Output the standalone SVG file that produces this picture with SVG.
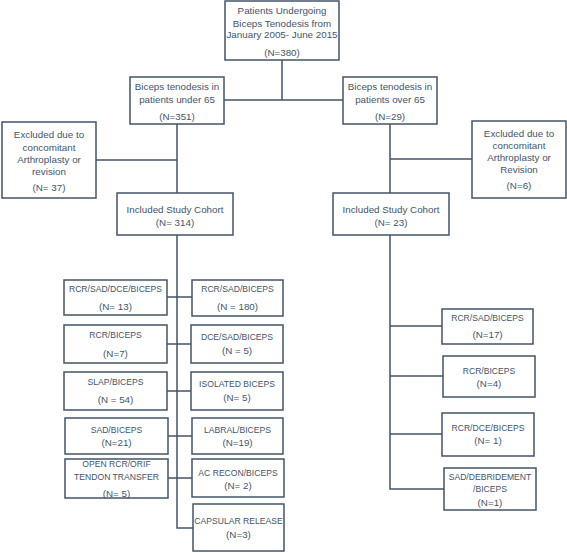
<svg xmlns="http://www.w3.org/2000/svg" width="567" height="553" viewBox="0 0 567 553">
<style>
rect{fill:#fff;stroke:#44546A;stroke-width:1.5}
text{font-family:"Liberation Sans",Arial,sans-serif;font-size:9.8px;fill:#44546A;text-anchor:middle}
text.c{font-size:8.6px}
#connectors path{fill:none;stroke:#44546A;stroke-width:1.5}
</style>
<rect x="0" y="0" width="567" height="553" style="fill:#fff;stroke:none"/>
<g id="connectors">
<path d="M282 60V100M224 100H343"/>
<path d="M177 124V193M96 160H177"/>
<path d="M390 124V193M390 159H472"/>
<path d="M177 235V528H193M167 297H192M167 344H191M167 391H191M168 436H192M168 478H192"/>
<path d="M390 235V489H444M390 326H442M390 376H443M390 434H442"/>
</g>
<g id="n_top"><rect x="225" y="1" width="114" height="59"/>
<text x="282" y="13.5">Patients Undergoing</text><text x="282" y="26.5">Biceps Tenodesis from</text><text x="282" y="37.5">January 2005- June 2015</text><text x="282" y="55.5">(N=380)</text></g>
<g id="n_under65"><rect x="130" y="77" width="94" height="47"/>
<text x="177" y="89.5">Biceps tenodesis in</text><text x="177" y="102.5">patients under 65</text><text x="177" y="119.5">(N=351)</text></g>
<g id="n_over65"><rect x="343" y="77" width="94" height="47"/>
<text x="390" y="89.5">Biceps tenodesis in</text><text x="390" y="102.5">patients over 65</text><text x="390" y="119.5">(N=29)</text></g>
<g id="n_excl_left"><rect x="2" y="122" width="94" height="76"/>
<text x="49" y="137.5">Excluded due to</text><text x="49" y="150.5">concomitant</text><text x="49" y="162.5">Arthroplasty or</text><text x="49" y="174.5">revision</text><text x="49" y="190.5">(N= 37)</text></g>
<g id="n_excl_right"><rect x="472" y="121" width="94" height="77"/>
<text x="519" y="136.5">Excluded due to</text><text x="519" y="148.5">concomitant</text><text x="519" y="160.5">Arthroplasty or</text><text x="519" y="172.5">Revision</text><text x="519" y="188.5">(N=6)</text></g>
<g id="n_cohort_left"><rect x="117" y="193" width="116" height="42"/>
<text x="175" y="212.5">Included Study Cohort</text><text x="175" y="225.5">(N= 314)</text></g>
<g id="n_cohort_right"><rect x="333" y="193" width="116" height="42"/>
<text x="391" y="212.5">Included Study Cohort</text><text x="391" y="225.5">(N= 23)</text></g>
<g id="n_l1"><rect x="64" y="280" width="103" height="35"/>
<text class="c" x="115.5" y="292">RCR/SAD/DCE/BICEPS</text><text x="115.5" y="309.5">(N= 13)</text></g>
<g id="n_r1"><rect x="192" y="280" width="91" height="36"/>
<text class="c" x="237.5" y="292">RCR/SAD/BICEPS</text><text x="237.5" y="309.5">(N = 180)</text></g>
<g id="n_l2"><rect x="64" y="325" width="103" height="38"/>
<text class="c" x="115.5" y="338">RCR/BICEPS</text><text x="115.5" y="356.5">(N=7)</text></g>
<g id="n_r2"><rect x="191" y="325" width="92" height="38"/>
<text class="c" x="237" y="340">DCE/SAD/BICEPS</text><text x="237" y="353.5">(N = 5)</text></g>
<g id="n_l3"><rect x="64" y="372" width="103" height="38"/>
<text class="c" x="115.5" y="385">SLAP/BICEPS</text><text x="115.5" y="402.5">(N = 54)</text></g>
<g id="n_r3"><rect x="191" y="372" width="92" height="38"/>
<text class="c" x="237" y="387">ISOLATED BICEPS</text><text x="237" y="400.5">(N= 5)</text></g>
<g id="n_l4"><rect x="65" y="418" width="103" height="36"/>
<text class="c" x="116.5" y="433">SAD/BICEPS</text><text x="116.5" y="445.5">(N=21)</text></g>
<g id="n_r4"><rect x="192" y="418" width="91" height="36"/>
<text class="c" x="237.5" y="433">LABRAL/BICEPS</text><text x="237.5" y="445.5">(N=19)</text></g>
<g id="n_l5"><rect x="65" y="459" width="103" height="39"/>
<text class="c" x="116.5" y="467">OPEN RCR/ORIF</text><text class="c" x="116.5" y="480">TENDON TRANSFER</text><text x="116.5" y="496.5">(N= 5)</text></g>
<g id="n_r5"><rect x="192" y="459" width="92" height="38"/>
<text class="c" x="238" y="476">AC RECON/BICEPS</text><text x="238" y="488.5">(N= 2)</text></g>
<g id="n_r6"><rect x="193" y="504" width="91" height="47"/>
<text class="c" x="238.5" y="524">CAPSULAR RELEASE</text><text x="238.5" y="537.5">(N=3)</text></g>
<g id="n_o1"><rect x="442" y="309" width="91" height="35"/>
<text class="c" x="487.5" y="321">RCR/SAD/BICEPS</text><text x="487.5" y="337.5">(N=17)</text></g>
<g id="n_o2"><rect x="443" y="356" width="92" height="41"/>
<text class="c" x="489" y="374">RCR/BICEPS</text><text x="489" y="386.5">(N=4)</text></g>
<g id="n_o3"><rect x="442" y="413" width="92" height="43"/>
<text class="c" x="488" y="431">RCR/DCE/BICEPS</text><text x="488" y="443.5">(N= 1)</text></g>
<g id="n_o4"><rect x="444" y="468" width="92" height="42"/>
<text class="c" x="490" y="480">SAD/DEBRIDEMENT</text><text class="c" x="490" y="492">/BICEPS</text><text x="490" y="505.5">(N=1)</text></g>
</svg>
